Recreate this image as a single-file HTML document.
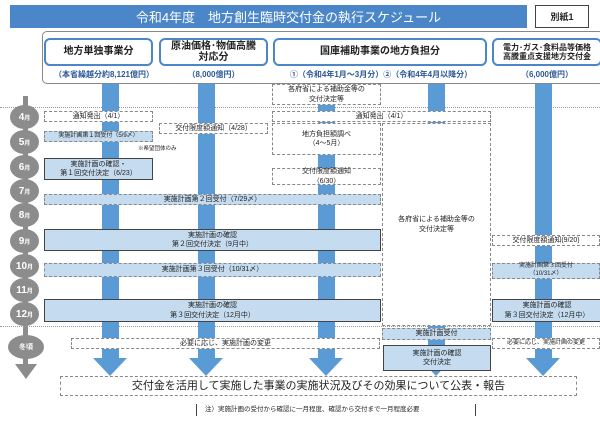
<!DOCTYPE html>
<html><head><meta charset="utf-8"><style>
*{margin:0;padding:0;box-sizing:border-box}
body{width:600px;height:446px;background:#fff;position:relative;overflow:hidden;font-family:"Liberation Sans","Noto Sans CJK JP",sans-serif;color:#222}
.a{position:absolute}
.bar{position:absolute;background:#5b9bd5;width:17px}
.d{position:absolute;border:1px dashed #888;background:#fff;font-size:7px;display:flex;align-items:center;justify-content:center;text-align:center;line-height:1.3}
.lb{background:#c5dcf0}
.s{position:absolute;border:1.5px solid #444;background:#c5dcf0;font-size:7px;display:flex;align-items:center;justify-content:center;text-align:center;line-height:1.35}
.m{position:absolute;left:10px;width:29px;height:24px;border-radius:50%;background:#8c8c8c;color:#fff;font-size:10px;font-weight:bold;display:flex;align-items:center;justify-content:center}
.m small{font-size:6px}
.hb{position:absolute;top:38px;height:28px;border:2px solid #4a86c8;border-radius:6px;background:#fff;font-weight:bold;font-size:10px;display:flex;align-items:center;justify-content:center;text-align:center;line-height:1.15}
.sub{position:absolute;top:69px;font-size:8px;font-weight:bold;color:#2b5797;text-align:center}
</style></head><body>
<div class="a" style="left:10px;top:5px;width:517px;height:23px;background:#4a86c8;color:#fff;font-size:13px;display:flex;align-items:center;justify-content:center;padding-left:40px">令和4年度　地方創生臨時交付金の執行スケジュール</div>
<div class="a" style="left:535px;top:5px;width:54px;height:23px;border:1px solid #444;font-size:9px;font-weight:bold;display:flex;align-items:center;justify-content:center">別紙1</div>
<div class="a" style="left:42px;top:31px;width:562px;height:53px;border:1px solid #888;border-radius:5px"></div>
<div class="hb" style="left:44px;width:109px">地方単独事業分</div>
<div class="hb" style="left:159px;width:109px">原油価格･物価高騰<br>対応分</div>
<div class="hb" style="left:273px;width:214px">国庫補助事業の地方負担分</div>
<div class="hb" style="left:492px;width:110px;font-size:8px">電力･ガス･食料品等価格<br>高騰重点支援地方交付金</div>
<div class="sub" style="left:44px;width:120px">（本省繰越分約8,121億円）</div>
<div class="sub" style="left:159px;width:109px">（8,000億円）</div>
<div class="sub" style="left:266px;width:230px">①（令和4年1月～3月分）②（令和4年4月以降分）</div>
<div class="sub" style="left:492px;width:110px">（6,000億円）</div>

<!-- timeline -->
<div class="a" style="left:23px;top:96px;width:5px;height:272px;background:#8c8c8c"></div>
<svg class="a" style="left:15px;top:364px" width="22" height="16"><polygon points="0,0 22,0 11,15" fill="#8c8c8c"/></svg>
<div class="a" style="left:0;top:107px;width:600px;border-top:1px dotted #999"></div>
<div class="a" style="left:0;top:326px;width:600px;border-top:1px dotted #999"></div>
<div class="m" style="top:105px">4<small>月</small></div>
<div class="m" style="top:130px">5<small>月</small></div>
<div class="m" style="top:155px">6<small>月</small></div>
<div class="m" style="top:179px">7<small>月</small></div>
<div class="m" style="top:203px">8<small>月</small></div>
<div class="m" style="top:229px">9<small>月</small></div>
<div class="m" style="top:254px">10<small>月</small></div>
<div class="m" style="top:278px">11<small>月</small></div>
<div class="m" style="top:302px">12<small>月</small></div>
<div class="m" style="top:335px;left:8px;width:36px;font-size:7px">冬頃</div>

<!-- bars -->
<div class="bar" style="left:102px;top:84px;height:275px"></div>
<div class="bar" style="left:198px;top:84px;height:275px"></div>
<div class="bar" style="left:318px;top:84px;height:275px"></div>
<div class="bar" style="left:428px;top:84px;height:275px"></div>
<div class="bar" style="left:535px;top:84px;height:275px"></div>
<svg class="a" style="left:0;top:0" width="600" height="446">
<g fill="#5b9bd5">
<polygon points="93,358 127,358 110,376"/>
<polygon points="189,358 223,358 206,376"/>
<polygon points="309,358 343,358 326,376"/>
<polygon points="419,358 453,358 436,376"/>
<polygon points="526,358 560,358 543,376"/>
</g></svg>

<div class="d" style="left:272px;top:84px;width:109px;height:21px">各府省による補助金等の<br>交付決定等</div>
<div class="d" style="left:44px;top:111px;width:109px;height:11px">通知発出（4/1）</div>
<div class="d" style="left:272px;top:111px;width:219px;height:11px">通知発出（4/1）</div>
<div class="d" style="left:159px;top:123px;width:109px;height:11px">交付限度額通知（4/28）</div>
<div class="d" style="left:272px;top:123px;width:109px;height:32px">地方負担額調べ<br>（4～5月）</div>
<div class="d" style="left:382px;top:123px;width:109px;height:203px">各府省による補助金等の<br>交付決定等</div>
<div class="d lb" style="left:44px;top:131px;width:109px;height:11px;font-size:6px">実施計画第１回受付（5/9〆）</div>
<div class="a" style="left:138px;top:144px;font-size:5.5px">※希望団体のみ</div>
<div class="s" style="left:44px;top:158px;width:109px;height:22px">実施計画の確認・<br>第１回交付決定（6/23）</div>
<div class="d" style="left:272px;top:168px;width:109px;height:17px">交付限度額通知<br>（6/30）</div>
<div class="d lb" style="left:44px;top:194px;width:337px;height:11px">実施計画第２回受付（7/29〆）</div>
<div class="s" style="left:44px;top:229px;width:337px;height:22px">実施計画の確認<br>第２回交付決定（9月中）</div>
<div class="d" style="left:492px;top:235px;width:108px;height:11px">交付限度額通知(9/20)</div>
<div class="d lb" style="left:44px;top:263px;width:337px;height:14px">実施計画第３回受付（10/31〆）</div>
<div class="d lb" style="left:492px;top:263px;width:108px;height:16px;font-size:6px">実施計画第３回受付<br>（10/31〆）</div>
<div class="s" style="left:44px;top:299px;width:337px;height:23px">実施計画の確認<br>第３回交付決定（12月中）</div>
<div class="s" style="left:492px;top:299px;width:110px;height:23px">実施計画の確認<br>第３回交付決定（12月中）</div>
<div class="d lb" style="left:382px;top:328px;width:109px;height:12px">実施計画受付</div>
<div class="d" style="left:71px;top:338px;width:309px;height:11px">必要に応じ、実施計画の変更</div>
<div class="d" style="left:492px;top:338px;width:108px;height:11px;font-size:6px">必要に応じ、実施計画の変更</div>
<div class="s" style="left:383px;top:345px;width:108px;height:26px">実施計画の確認<br>交付決定</div>
<div class="d" style="left:60px;top:376px;width:517px;height:20px;font-size:11px">交付金を活用して実施した事業の実施状況及びその効果について公表・報告</div>
<div class="a" style="left:196px;top:404px;width:280px;height:12px;border-left:1px solid #444;border-right:1px solid #444;font-size:6.5px;padding-left:8px;line-height:12px">注）実施計画の受付から確認に一月程度、確認から交付まで一月程度必要</div>
</body></html>
